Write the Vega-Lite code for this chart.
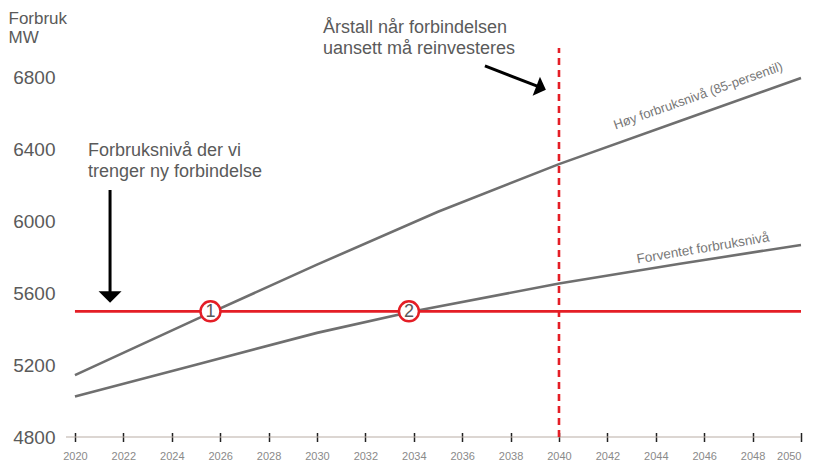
{
  "$schema": "https://vega.github.io/schema/vega-lite/v6.json",
  "autosize": {"type": "none"},
  "width": 735,
  "height": 389,
  "padding": {"left": 66, "top": 48, "right": 15, "bottom": 28},
  "config": {
    "view": {"stroke": null},
    "font": "Liberation Sans",
    "text": {"font": "Liberation Sans"}
  },
  "datasets": {
    "lines": [
      {"series": "Høy", "year": 2020, "value": 5145},
      {"series": "Høy", "year": 2025, "value": 5455},
      {"series": "Høy", "year": 2030, "value": 5760},
      {"series": "Høy", "year": 2035, "value": 6055},
      {"series": "Høy", "year": 2040, "value": 6320},
      {"series": "Høy", "year": 2045, "value": 6560},
      {"series": "Høy", "year": 2050, "value": 6800},
      {"series": "Forventet", "year": 2020, "value": 5025},
      {"series": "Forventet", "year": 2025, "value": 5203},
      {"series": "Forventet", "year": 2030, "value": 5380},
      {"series": "Forventet", "year": 2034, "value": 5500},
      {"series": "Forventet", "year": 2040, "value": 5655},
      {"series": "Forventet", "year": 2045, "value": 5765},
      {"series": "Forventet", "year": 2050, "value": 5870}
    ],
    "markers": [
      {"label": "1", "year": 2025.6, "value": 5500},
      {"label": "2", "year": 2033.8, "value": 5500}
    ],
    "notes": [
      {"text": "Forbruksnivå der vi\ntrenger ny forbindelse", "year": 2020.54, "value": 6445},
      {"text": "Årstall når forbindelsen\nuansett må reinvesteres", "year": 2030.25, "value": 7128}
    ]
  },
  "layer": [
    {
      "data": {"values": [{}]},
      "mark": {"type": "rule", "color": "#b9ada5", "strokeWidth": 1.2},
      "encoding": {
        "x": {"datum": 2019.63, "type": "quantitative", "scale": {"domain": [2019.63, 2050], "nice": false, "zero": false},
          "axis": {"values": [2020,2022,2024,2026,2028,2030,2032,2034,2036,2038,2040,2042,2044,2046,2048,2050], "format": "d", "labelFontSize": 11, "labelColor": "#8a8a8a", "domain": false, "tickColor": "#222222", "tickSize": 9, "tickWidth": 1.5, "offset": -4.5, "labelPadding": 9, "grid": false, "title": null, "labelFont": "Liberation Sans"}},
        "x2": {"datum": 2050},
        "y": {"datum": 4800, "type": "quantitative", "scale": {"domain": [4800, 6967], "nice": false, "zero": false},
          "axis": {"values": [4800,5200,5600,6000,6400,6800], "format": "d", "labelFontSize": 19, "labelColor": "#5a5a5a", "domain": false, "ticks": false, "tickSize": 0, "grid": false, "labelPadding": 11, "labelFont": "Liberation Sans",
            "title": ["Forbruk", "MW"], "titleAngle": 0, "titleAlign": "left", "titleBaseline": "top", "titleX": -58, "titleY": -38, "titleFontSize": 17, "titleFontWeight": "normal", "titleColor": "#5a5a5a", "titleLineHeight": 19, "titleFont": "Liberation Sans"}}
      }
    },
    {
      "data": {"name": "lines"},
      "mark": {"type": "line", "color": "#6f6f6f", "strokeWidth": 2.6},
      "encoding": {
        "x": {"field": "year", "type": "quantitative", "scale": {"domain": [2019.63, 2050], "nice": false, "zero": false}},
        "y": {"field": "value", "type": "quantitative", "scale": {"domain": [4800, 6967], "nice": false, "zero": false}},
        "detail": {"field": "series"}
      }
    },
    {
      "data": {"values": [{}]},
      "mark": {"type": "rule", "color": "#e41e26", "strokeWidth": 2.6},
      "encoding": {
        "x": {"datum": 2020, "type": "quantitative"},
        "x2": {"datum": 2050},
        "y": {"datum": 5500, "type": "quantitative"}
      }
    },
    {
      "data": {"values": [{}]},
      "mark": {"type": "rule", "color": "#e41e26", "strokeWidth": 2.6, "strokeDash": [7, 5]},
      "encoding": {
        "x": {"datum": 2040, "type": "quantitative"},
        "y": {"datum": 4800, "type": "quantitative"},
        "y2": {"datum": 6967}
      }
    },
    {
      "data": {"name": "markers"},
      "mark": {"type": "point", "shape": "circle", "filled": false, "fill": "white", "fillOpacity": 1, "stroke": "#e41e26", "strokeWidth": 2.5, "size": 400, "opacity": 1},
      "encoding": {
        "x": {"field": "year", "type": "quantitative"},
        "y": {"field": "value", "type": "quantitative"}
      }
    },
    {
      "data": {"name": "markers"},
      "mark": {"type": "text", "fontSize": 18, "color": "#5a5a5a", "align": "center", "baseline": "middle", "dy": 1},
      "encoding": {
        "x": {"field": "year", "type": "quantitative"},
        "y": {"field": "value", "type": "quantitative"},
        "text": {"field": "label"}
      }
    },
    {
      "data": {"name": "notes"},
      "mark": {"type": "text", "fontSize": 18, "color": "#5a5a5a", "align": "left", "baseline": "top", "lineBreak": "\n", "lineHeight": 21},
      "encoding": {
        "x": {"field": "year", "type": "quantitative"},
        "y": {"field": "value", "type": "quantitative"},
        "text": {"field": "text"}
      }
    },
    {
      "data": {"values": [{"text": "Høy forbruksnivå (85-persentil)", "year": 2045.75, "value": 6700}]},
      "mark": {"type": "text", "fontSize": 13, "color": "#777777", "align": "center", "baseline": "middle", "angle": -19.5},
      "encoding": {
        "x": {"field": "year", "type": "quantitative"},
        "y": {"field": "value", "type": "quantitative"},
        "text": {"field": "text"}
      }
    },
    {
      "data": {"values": [{"text": "Forventet forbruksnivå", "year": 2045.95, "value": 5850}]},
      "mark": {"type": "text", "fontSize": 13.5, "color": "#777777", "align": "center", "baseline": "middle", "angle": -9.5},
      "encoding": {
        "x": {"field": "year", "type": "quantitative"},
        "y": {"field": "value", "type": "quantitative"},
        "text": {"field": "text"}
      }
    },
    {
      "data": {"values": [{"x0": 2021.45, "y0": 6176, "x1": 2021.45, "y1": 5600}, {"x0": 2036.94, "y0": 6867, "x1": 2039.1, "y1": 6755}]},
      "mark": {"type": "rule", "color": "#000000", "strokeWidth": 3},
      "encoding": {
        "x": {"field": "x0", "type": "quantitative"},
        "y": {"field": "y0", "type": "quantitative"},
        "x2": {"field": "x1"},
        "y2": {"field": "y1"}
      }
    },
    {
      "data": {"values": [{"year": 2021.45, "value": 5580}]},
      "mark": {"type": "point", "shape": "M-1,-0.5L1,-0.5L0,0.5Z", "filled": true, "color": "#000000", "opacity": 1, "size": 530},
      "encoding": {
        "x": {"field": "year", "type": "quantitative"},
        "y": {"field": "value", "type": "quantitative"}
      }
    },
    {
      "data": {"values": [{"year": 2039.26, "value": 6744}]},
      "mark": {"type": "point", "shape": "M-1,-0.5L1,-0.5L0,0.5Z", "filled": true, "color": "#000000", "opacity": 1, "size": 420, "angle": 291},
      "encoding": {
        "x": {"field": "year", "type": "quantitative"},
        "y": {"field": "value", "type": "quantitative"}
      }
    }
  ]
}
